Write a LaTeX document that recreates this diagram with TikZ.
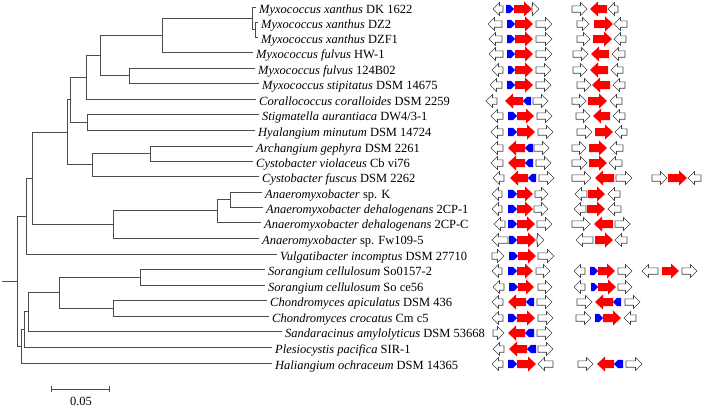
\documentclass[tikz,border=0pt]{standalone}
\usepackage{fontspec}
\setmainfont{Liberation Serif}

% one gene arrow from tail #2 to head #3 on row \ry
\newcommand{\gene}[6]{%
  \pgfmathsetmacro{\hbase}{#3-#6*sign(#3-#2)}%
  \draw[#1] (#2,\ry-#4) -- (\hbase,\ry-#4) -- (\hbase,\ry-#5) -- (#3,\ry)
    -- (\hbase,\ry+#5) -- (\hbase,\ry+#4) -- (#2,\ry+#4) -- cycle;}
\newcommand{\genw}[2]{\gene{wgene}{#1}{#2}{3.2}{6.5}{6.5}}
\newcommand{\genr}[2]{\gene{rgene}{#1}{#2}{4}{7.5}{8}}
\newcommand{\genb}[2]{\gene{bgene}{#1}{#2}{4.2}{4.2}{4}}

\begin{document}
\begin{tikzpicture}[x=1pt,y=-1pt,font=\fontsize{12.5pt}{14pt}\selectfont,
  branch/.style={draw=black!70,line width=0.8pt},
  taxon/.style={anchor=base west,inner sep=0pt,xshift=3pt},
  wgene/.style={draw=black!75,fill=white,line width=0.6pt},
  rgene/.style={draw=none,fill=red},
  bgene/.style={draw=none,fill=blue}]
\useasboundingbox (0,0) rectangle (708,408);

% internal nodes of the tree
\coordinate (r0) at (2,281.2);
\coordinate (root) at (17,281.2);
\coordinate (axs) at (255,29.75);
\coordinate (ax) at (252,18.4);
\coordinate (a1) at (162,35.2);
\coordinate (a2) at (129,75.5);
\coordinate (a3) at (100,55.35);
\coordinate (a4) at (86,77.2);
\coordinate (a5) at (87,122);
\coordinate (a6) at (70,99.6);
\coordinate (a7) at (150,153.5);
\coordinate (a8) at (92,164.75);
\coordinate (a9) at (67,132.2);
\coordinate (a13) at (230,199.5);
\coordinate (a12) at (217,210.75);
\coordinate (a11) at (113,224.4);
\coordinate (a10) at (32,178.3);
\coordinate (a14) at (26,216.2);
\coordinate (b1) at (140,277);
\coordinate (b2) at (113,308);
\coordinate (b3) at (59,292.5);
\coordinate (b4) at (28,311.75);
\coordinate (b5) at (24,329.4);
\coordinate (b6) at (21,346.2);

% leaves and taxon names
\foreach \xe/\ly/\gen/\strn [count=\i] in {
  256/7/{Myxococcus xanthus}/{DK 1622},
  258/22.5/{Myxococcus xanthus}/{DZ2},
  258/37/{Myxococcus xanthus}/{DZF1},
  253/52/{Myxococcus fulvus}/{HW-1},
  255/68/{Myxococcus fulvus}/{124B02},
  259/83/{Myxococcus stipitatus}/{DSM 14675},
  256/99/{Corallococcus coralloides}/{DSM 2259},
  259/114/{Stigmatella aurantiaca}/{DW4/3-1},
  255/130/{Hyalangium minutum}/{DSM 14724},
  253/146/{Archangium gephyra}/{DSM 2261},
  253/161/{Cystobacter violaceus}/{Cb vi76},
  259/176/{Cystobacter fuscus}/{DSM 2262},
  262/192/{Anaeromyxobacter}/{sp. K},
  263/207/{Anaeromyxobacter dehalogenans}/{2CP-1},
  261/222/{Anaeromyxobacter dehalogenans}/{2CP-C},
  259/238/{Anaeromyxobacter}/{sp. Fw109-5},
  277/254/{Vulgatibacter incomptus}/{DSM 27710},
  265/269/{Sorangium cellulosum}/{So0157-2},
  265/285/{Sorangium cellulosum}/{So ce56},
  267/300/{Chondromyces apiculatus}/{DSM 436},
  269/316/{Chondromyces crocatus}/{Cm c5},
  282/331/{Sandaracinus amylolyticus}/{DSM 53668},
  272/347/{Plesiocystis pacifica}/{SIR-1},
  272/363/{Haliangium ochraceum}/{DSM 14365}}
{
  \coordinate (c\i) at (\xe,\ly);
  \node[taxon] (t\i) at (\xe,\ly+6) {\textit{\gen} \strn};
}

% branches
\draw[branch] (r0) -- (root);
\foreach \p/\c in {root/a14,root/b6,a14/a10,a14/c17,a10/a9,a10/a11,
  a9/a6,a9/a8,a6/a4,a6/a5,a4/a3,a4/c7,a3/a1,a3/a2,a1/ax,a1/c4,
  ax/c1,ax/axs,axs/c2,axs/c3,a2/c5,a2/c6,a5/c8,a5/c9,a8/a7,a8/c12,
  a7/c10,a7/c11,a11/a12,a11/c16,a12/a13,a12/c15,a13/c13,a13/c14,
  b6/b5,b6/c24,b5/b4,b5/c23,b4/b3,b4/c22,b3/b1,b3/b2,
  b1/c18,b1/c19,b2/c20,b2/c21}
  \draw[branch] (\p) |- (\c);

% scale bar
\coordinate (s0) at (51,389);
\coordinate (s1) at (109,389);
\draw[branch] (s0) -- (s1);
\draw[branch] ([yshift=3pt]s0) -- ([yshift=-3pt]s0);
\draw[branch] ([yshift=3pt]s1) -- ([yshift=-3pt]s1);
\node (scl) at (81,401) {0.05};

% gene neighbourhoods
\def\ry{9}
\genw{503}{493}\genb{506}{514}\genr{514}{532}\genw{532}{539}
\genw{572}{587}\genr{607}{590}\genw{618}{608}
\def\ry{24}
\genw{502}{488}\genb{507}{515}\genr{515}{533}\genw{536}{552}
\genw{577}{589}\genr{594}{613}\genw{627}{614}
\def\ry{39}
\genw{502}{489}\genb{507}{515}\genr{515}{533}\genw{536}{552}
\genw{577}{590}\genr{593}{612}\genw{626}{614}
\def\ry{54}
\genw{503}{489}\genb{507}{515}\genr{515}{533}\genw{536}{552}
\genw{573}{588}\genr{609}{591}\genw{625}{612}
\def\ry{70}
\genw{503}{492}\genb{508}{515}\genr{515}{533}\genw{536}{551}
\genw{573}{587}\genr{608}{590}\genw{623}{611}
\def\ry{85}
\genw{502}{490}\genb{507}{515}\genr{515}{533}\genw{536}{551}
\genw{577}{591}\genr{610}{592}\genw{625}{613}
\def\ry{101}
\genw{497}{486}\genr{523}{505}\genb{531}{523}\genw{533}{548}
\genw{572}{586}\genr{588}{607}\genw{622}{610}
\def\ry{116}
\genw{503}{491}\genb{508}{517}\genr{517}{534}\genw{537}{552}
\genw{576}{590}\genr{610}{593}\genw{625}{613}
\def\ry{132}
\genw{503}{491}\genb{508}{517}\genr{517}{535}\genw{538}{553}
\genw{577}{592}\genr{595}{613}\genw{627}{615}
\def\ry{148}
\genw{503}{491}\genr{525}{508}\genb{533}{525}\genw{534}{549}
\genw{572}{586}\genr{589}{607}\genw{623}{610}
\def\ry{163}
\genw{503}{491}\genr{525}{508}\genb{533}{525}\genw{536}{551}
\genw{572}{587}\genr{589}{607}\genw{622}{609}
\def\ry{178}
\genw{504}{493}\genr{528}{510}\genb{536}{528}\genw{539}{554}
\genw{572}{591}\genr{614}{595}\genw{616}{632}
\genw{652}{667}\genr{668}{687}\genw{701}{688}
\def\ry{194}
\genw{502}{492}\genb{508}{517}\genr{517}{533}\genw{535}{548}
\genw{587}{575}\genr{588}{605}\genw{620}{608}
\def\ry{209}
\genw{502}{492}\genb{508}{517}\genr{517}{533}\genw{534}{548}
\genw{586}{574}\genr{587}{605}\genw{621}{608}
\def\ry{224}
\genw{505}{494}\genb{508}{517}\genr{517}{535}\genw{537}{552}
\genw{572}{590}\genr{613}{594}\genw{615}{630}
\def\ry{240}
\genw{508}{492}\genb{509}{517}\genr{517}{536}\genw{537}{544}
\genw{593}{576}\genr{595}{613}\genw{627}{615}
\def\ry{256}
\genw{492}{504}\genb{509}{518}\genr{518}{536}\genw{538}{554}
\def\ry{271}
\genw{502}{492}\genb{508}{517}\genr{517}{533}\genw{536}{550}
\genw{585}{574}\genb{590}{598}\genr{598}{615}\genw{618}{632}
\genw{658}{642}\genr{662}{679}\genw{682}{697}
\def\ry{287}
\genw{504}{493}\genb{509}{518}\genr{518}{534}\genw{538}{552}
\genw{585}{574}\genb{591}{598}\genr{598}{616}\genw{618}{632}
\def\ry{302}
\genw{503}{492}\genr{526}{508}\genb{534}{526}\genw{537}{552}
\genw{577}{592}\genr{613}{595}\genb{621}{613}\genw{625}{640}
\def\ry{318}
\genw{503}{492}\genb{508}{517}\genr{517}{535}\genw{538}{553}
\genw{576}{591}\genb{595}{603}\genr{603}{621}\genw{636}{624}
\def\ry{333}
\genw{493}{504}\genr{525}{508}\genb{534}{525}\genw{537}{552}
\def\ry{349}
\genw{504}{493}\genr{527}{509}\genb{536}{527}\genw{538}{553}
\def\ry{364}
\genw{503}{492}\genb{508}{517}\genr{517}{536}\genw{553}{538}
\genw{578}{593}\genr{614}{597}\genb{623}{614}\genw{626}{642}
\end{tikzpicture}
\end{document}
